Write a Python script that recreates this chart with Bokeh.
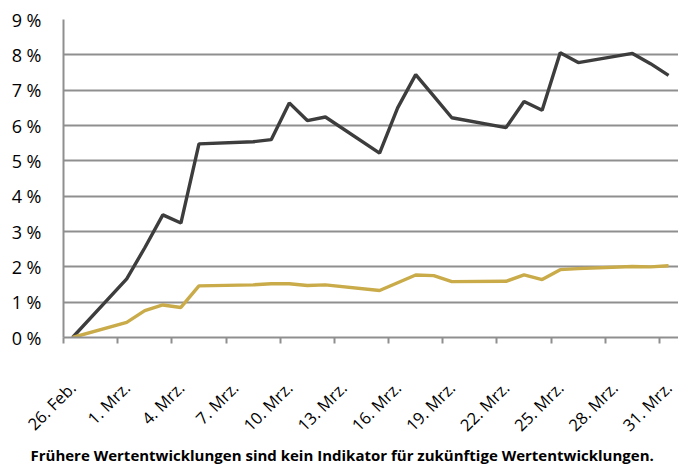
import pandas as pd
from bokeh.plotting import figure
from bokeh.models import FixedTicker, Range1d, Title
from bokeh.embed import file_html
from bokeh.resources import INLINE
import math

# ---- data ----
dates = ["2021-02-26", "2021-03-01", "2021-03-02", "2021-03-03", "2021-03-04", "2021-03-05",
         "2021-03-08", "2021-03-09", "2021-03-10", "2021-03-11", "2021-03-12",
         "2021-03-15", "2021-03-16", "2021-03-17", "2021-03-18", "2021-03-19",
         "2021-03-22", "2021-03-23", "2021-03-24", "2021-03-25", "2021-03-26",
         "2021-03-29", "2021-03-30", "2021-03-31"]
series_dark = [0.00, 1.66, 2.54, 3.47, 3.24, 5.48, 5.54, 5.60, 6.64, 6.14, 6.24,
               5.22, 6.50, 7.44, 6.83, 6.22, 5.94, 6.68, 6.43, 8.06, 7.78,
               8.04, 7.75, 7.42]
series_gold = [0.00, 0.43, 0.76, 0.92, 0.85, 1.46, 1.49, 1.52, 1.52, 1.47, 1.49,
               1.33, 1.55, 1.77, 1.75, 1.58, 1.59, 1.77, 1.64, 1.92, 1.95,
               2.01, 2.00, 2.03]
tick_dates = ["2021-02-26", "2021-03-01", "2021-03-04", "2021-03-07", "2021-03-10", "2021-03-13",
              "2021-03-16", "2021-03-19", "2021-03-22", "2021-03-25", "2021-03-28", "2021-03-31"]
tick_labels = ["26. Feb.", "1. Mrz.", "4. Mrz.", "7. Mrz.", "10. Mrz.", "13. Mrz.",
               "16. Mrz.", "19. Mrz.", "22. Mrz.", "25. Mrz.", "28. Mrz.", "31. Mrz."]
y_ticks = [0, 1, 2, 3, 4, 5, 6, 7, 8, 9]
y_labels = ["0 %", "1 %", "2 %", "3 %", "4 %", "5 %", "6 %", "7 %", "8 %", "9 %"]
footer = "Frühere Wertentwicklungen sind kein Indikator für zukünftige Wertentwicklungen."

start = pd.Timestamp(dates[0])
xs = [(pd.Timestamp(d) - start).days for d in dates]
tick_x = [(pd.Timestamp(d) - start).days for d in tick_dates]
boundaries = [t - 0.5 for t in tick_x]

FONT = "Open Sans"
GRID = "#8f8f8f"

p = figure(width=678, height=464, output_backend="svg", toolbar_location=None,
           x_range=Range1d(-0.5, 33.55), y_range=Range1d(0, 9),
           min_border_left=63, min_border_right=0, min_border_top=19, min_border_bottom=127)
p.outline_line_color = None
p.background_fill_color = "white"

p.line(xs, series_dark, line_color="#3d3d3d", line_width=3.4)
p.line(xs, series_gold, line_color="#c9ab4a", line_width=3.4)

# x axis
p.xaxis.ticker = FixedTicker(ticks=tick_x, minor_ticks=boundaries)
p.xaxis.major_label_overrides = {t: l for t, l in zip(tick_x, tick_labels)}
p.xaxis.major_label_orientation = math.pi / 4
p.xaxis.major_tick_line_color = None
p.xaxis.major_tick_out = 0
p.xaxis.major_tick_in = 0
p.xaxis.minor_tick_in = 0
p.xaxis.minor_tick_out = 6
p.xaxis.minor_tick_line_color = GRID
p.xaxis.minor_tick_line_width = 2
p.xaxis.axis_line_color = GRID
p.xaxis.axis_line_width = 2
p.xaxis.major_label_standoff = 41
p.xaxis.major_label_text_font = FONT
p.xaxis.major_label_text_font_size = "16.5px"
p.xaxis.major_label_text_color = "#000000"
p.xgrid.visible = False

# y axis
p.yaxis.ticker = FixedTicker(ticks=y_ticks)
p.yaxis.major_label_overrides = {t: l for t, l in zip(y_ticks, y_labels)}
p.yaxis.major_tick_line_color = None
p.yaxis.major_tick_out = 0
p.yaxis.major_tick_in = 0
p.yaxis.minor_tick_line_color = None
p.yaxis.axis_line_color = GRID
p.yaxis.axis_line_width = 2
p.yaxis.major_label_standoff = 22
p.yaxis.major_label_text_font = FONT
p.yaxis.major_label_text_font_size = "18px"
p.yaxis.major_label_text_color = "#000000"
p.ygrid.grid_line_color = GRID
p.ygrid.grid_line_width = 2

t = Title(text=footer, align="left", offset=-33, standoff=-4, vertical_align="top",
          text_font=FONT, text_font_style="bold", text_font_size="15px", text_color="#000000")
p.add_layout(t, "below")

open("out.html", "w").write(file_html(p, INLINE))
